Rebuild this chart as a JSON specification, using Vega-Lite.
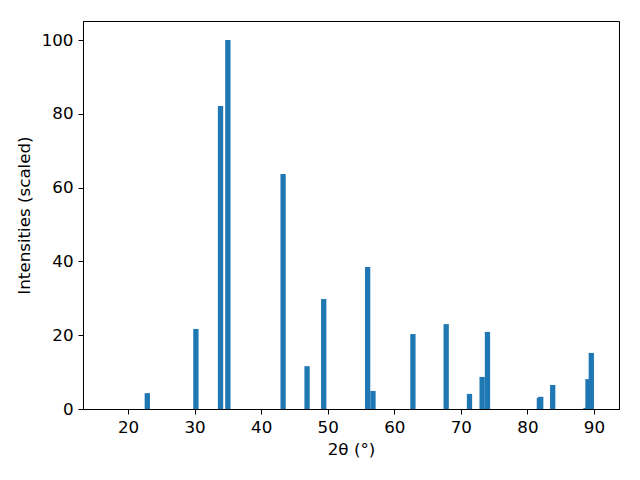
{
  "$schema": "https://vega.github.io/schema/vega-lite/v6.json",
  "autosize": "none",
  "width": 536,
  "height": 388,
  "padding": {"left": 83, "top": 21, "right": 21, "bottom": 71},
  "background": "white",
  "config": {
    "view": {"stroke": "black", "strokeWidth": 1},
    "axis": {
      "labelFont": "DejaVu Sans",
      "titleFont": "DejaVu Sans",
      "labelFontSize": 16.7,
      "titleFontSize": 16.7,
      "titleFontWeight": "normal",
      "labelColor": "black",
      "titleColor": "black",
      "tickColor": "black",
      "domainColor": "black",
      "tickSize": 5,
      "labelPadding": 5,
      "grid": false
    }
  },
  "data": {
    "values": [
      {"two_theta": 22.9, "intensity": 4.3},
      {"two_theta": 30.2, "intensity": 21.7},
      {"two_theta": 33.9, "intensity": 82.1},
      {"two_theta": 35.0, "intensity": 100},
      {"two_theta": 43.3, "intensity": 63.7},
      {"two_theta": 46.9, "intensity": 11.6},
      {"two_theta": 49.4, "intensity": 29.8},
      {"two_theta": 56.0, "intensity": 38.5},
      {"two_theta": 56.8, "intensity": 4.9},
      {"two_theta": 62.8, "intensity": 20.3},
      {"two_theta": 67.8, "intensity": 23.0},
      {"two_theta": 71.3, "intensity": 4.1},
      {"two_theta": 73.2, "intensity": 8.7},
      {"two_theta": 74.0, "intensity": 20.9},
      {"two_theta": 81.8, "intensity": 3.0},
      {"two_theta": 82.0, "intensity": 3.3},
      {"two_theta": 83.8, "intensity": 6.5},
      {"two_theta": 88.8, "intensity": 0.3},
      {"two_theta": 89.1, "intensity": 8.1},
      {"two_theta": 89.6, "intensity": 15.2}
    ]
  },
  "mark": {"type": "bar", "width": 5.3, "color": "#1f77b4"},
  "encoding": {
    "x": {
      "field": "two_theta",
      "type": "quantitative",
      "scale": {"domain": [13.24, 93.76], "nice": false, "zero": false, "padding": 0},
      "axis": {"values": [20, 30, 40, 50, 60, 70, 80, 90], "title": "2θ (°)", "titlePadding": 6}
    },
    "y": {
      "field": "intensity",
      "type": "quantitative",
      "scale": {"domain": [0, 105.15], "nice": false},
      "axis": {"values": [0, 20, 40, 60, 80, 100], "title": "Intensities (scaled)", "titlePadding": 8}
    }
  }
}
